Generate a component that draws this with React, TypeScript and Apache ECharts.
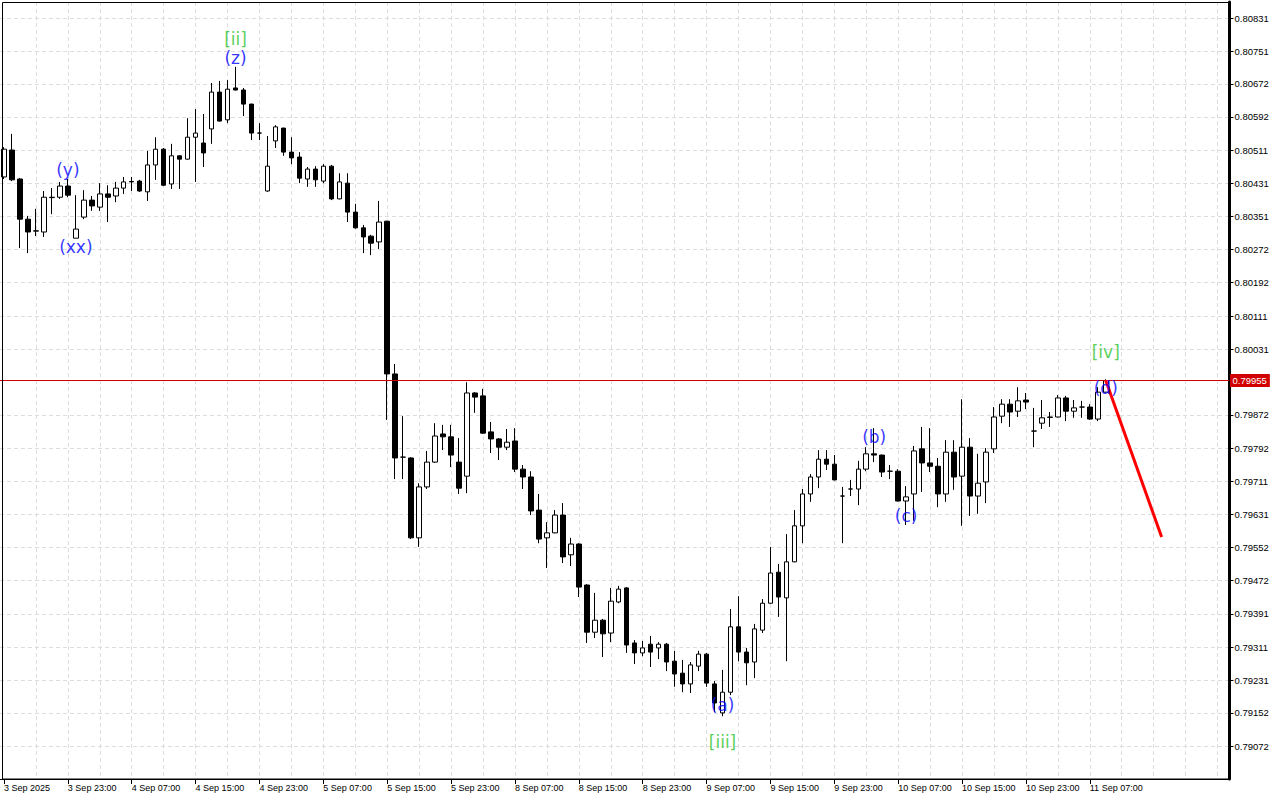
import React, { useEffect, useRef } from "react";
import * as echarts from "echarts";

// Time labels shown every 8 hourly bars (index 0, 8, 16, ...)
const xTickLabels = [
  "3 Sep 2025", "3 Sep 23:00", "4 Sep 07:00", "4 Sep 15:00", "4 Sep 23:00",
  "5 Sep 07:00", "5 Sep 15:00", "5 Sep 23:00", "8 Sep 07:00", "8 Sep 15:00",
  "8 Sep 23:00", "9 Sep 07:00", "9 Sep 15:00", "9 Sep 23:00", "10 Sep 07:00",
  "10 Sep 15:00", "10 Sep 23:00", "11 Sep 07:00",
];
const LABEL_STEP = 8;
const GRID_STEP = 4;
const BAR_SLOTS = 154;

// Price-axis tick values
const yTickValues = [
  0.80831, 0.80751, 0.80672, 0.80592, 0.80511, 0.80431, 0.80351, 0.80272,
  0.80192, 0.80111, 0.80031, 0.79872, 0.79792, 0.79711, 0.79631, 0.79552,
  0.79472, 0.79391, 0.79311, 0.79231, 0.79152, 0.79072,
];
const yMin = 0.789923;
const yMax = 0.808697;

// Hourly candles: [open, close, low, high]
const candles: number[][] = [
  [0.80447, 0.80514, 0.80442, 0.80519], [0.80512, 0.80440, 0.80437, 0.80551],
  [0.80442, 0.80345, 0.80275, 0.80444], [0.80345, 0.80314, 0.80263, 0.80353],
  [0.80316, 0.80317, 0.80304, 0.80370], [0.80314, 0.80398, 0.80302, 0.80413],
  [0.80397, 0.80398, 0.80357, 0.80420], [0.80398, 0.80425, 0.80394, 0.80435],
  [0.80425, 0.80403, 0.80398, 0.80442], [0.80299, 0.80321, 0.80299, 0.80403],
  [0.80350, 0.80391, 0.80345, 0.80415], [0.80391, 0.80377, 0.80365, 0.80401],
  [0.80374, 0.80406, 0.80365, 0.80432], [0.80406, 0.80398, 0.80338, 0.80427],
  [0.80401, 0.80420, 0.80386, 0.80435], [0.80420, 0.80435, 0.80406, 0.80447],
  [0.80436, 0.80435, 0.80413, 0.80447], [0.80437, 0.80413, 0.80411, 0.80440],
  [0.80411, 0.80476, 0.80389, 0.80510], [0.80476, 0.80514, 0.80440, 0.80543],
  [0.80514, 0.80427, 0.80425, 0.80517], [0.80430, 0.80498, 0.80418, 0.80527],
  [0.80498, 0.80490, 0.80418, 0.80499], [0.80490, 0.80543, 0.80489, 0.80589],
  [0.80543, 0.80553, 0.80435, 0.80611], [0.80529, 0.80505, 0.80471, 0.80599],
  [0.80563, 0.80652, 0.80527, 0.80674], [0.80652, 0.80582, 0.80581, 0.80679],
  [0.80585, 0.80659, 0.80577, 0.80681], [0.80662, 0.80657, 0.80656, 0.80713],
  [0.80657, 0.80623, 0.80594, 0.80662], [0.80623, 0.80553, 0.80536, 0.80624],
  [0.80553, 0.80553, 0.80536, 0.80577], [0.80413, 0.80473, 0.80411, 0.80546],
  [0.80534, 0.80568, 0.80517, 0.80572], [0.80565, 0.80507, 0.80498, 0.80566],
  [0.80507, 0.80493, 0.80478, 0.80543], [0.80495, 0.80444, 0.80432, 0.80507],
  [0.80442, 0.80466, 0.80423, 0.80471], [0.80466, 0.80440, 0.80423, 0.80473],
  [0.80437, 0.80473, 0.80432, 0.80478], [0.80473, 0.80394, 0.80391, 0.80476],
  [0.80394, 0.80435, 0.80393, 0.80456], [0.80432, 0.80362, 0.80338, 0.80456],
  [0.80362, 0.80324, 0.80322, 0.80382], [0.80324, 0.80302, 0.80263, 0.80331],
  [0.80304, 0.80287, 0.80258, 0.80307], [0.80290, 0.80338, 0.80273, 0.80389],
  [0.80340, 0.79971, 0.79860, 0.80341], [0.79971, 0.79768, 0.79717, 0.79995],
  [0.79770, 0.79770, 0.79717, 0.79869], [0.79768, 0.79575, 0.79572, 0.79770],
  [0.79575, 0.79698, 0.79553, 0.79707], [0.79698, 0.79758, 0.79693, 0.79785],
  [0.79758, 0.79821, 0.79756, 0.79852], [0.79826, 0.79819, 0.79787, 0.79848],
  [0.79819, 0.79775, 0.79746, 0.79848], [0.79758, 0.79695, 0.79681, 0.79816],
  [0.79724, 0.79925, 0.79683, 0.79951], [0.79925, 0.79915, 0.79877, 0.79927],
  [0.79918, 0.79828, 0.79826, 0.79935], [0.79831, 0.79814, 0.79780, 0.79855],
  [0.79814, 0.79794, 0.79763, 0.79816], [0.79794, 0.79806, 0.79787, 0.79838],
  [0.79809, 0.79741, 0.79734, 0.79840], [0.79741, 0.79722, 0.79693, 0.79751],
  [0.79722, 0.79640, 0.79630, 0.79736], [0.79642, 0.79572, 0.79562, 0.79681],
  [0.79575, 0.79587, 0.79502, 0.79613], [0.79587, 0.79630, 0.79586, 0.79642],
  [0.79630, 0.79529, 0.79514, 0.79659], [0.79534, 0.79560, 0.79507, 0.79575],
  [0.79560, 0.79456, 0.79432, 0.79562], [0.79461, 0.79347, 0.79321, 0.79463],
  [0.79347, 0.79376, 0.79333, 0.79442], [0.79376, 0.79343, 0.79287, 0.79379],
  [0.79345, 0.79422, 0.79323, 0.79454], [0.79420, 0.79451, 0.79417, 0.79459],
  [0.79454, 0.79316, 0.79297, 0.79456], [0.79321, 0.79297, 0.79270, 0.79328],
  [0.79297, 0.79309, 0.79289, 0.79326], [0.79318, 0.79299, 0.79263, 0.79338],
  [0.79309, 0.79318, 0.79282, 0.79323], [0.79318, 0.79275, 0.79253, 0.79321],
  [0.79277, 0.79246, 0.79215, 0.79302], [0.79248, 0.79222, 0.79202, 0.79280],
  [0.79222, 0.79268, 0.79200, 0.79275], [0.79265, 0.79294, 0.79253, 0.79302],
  [0.79294, 0.79224, 0.79215, 0.79297], [0.79222, 0.79176, 0.79154, 0.79229],
  [0.79152, 0.79202, 0.79144, 0.79256], [0.79202, 0.79360, 0.79195, 0.79403],
  [0.79360, 0.79299, 0.79277, 0.79434], [0.79299, 0.79273, 0.79219, 0.79309],
  [0.79275, 0.79355, 0.79236, 0.79367], [0.79352, 0.79417, 0.79345, 0.79427],
  [0.79417, 0.79490, 0.79416, 0.79553], [0.79492, 0.79432, 0.79384, 0.79512],
  [0.79430, 0.79517, 0.79277, 0.79584], [0.79517, 0.79604, 0.79516, 0.79642],
  [0.79604, 0.79681, 0.79562, 0.79693], [0.79681, 0.79722, 0.79662, 0.79729],
  [0.79722, 0.79765, 0.79695, 0.79787], [0.79765, 0.79753, 0.79739, 0.79787],
  [0.79753, 0.79715, 0.79714, 0.79775], [0.79676, 0.79676, 0.79562, 0.79698],
  [0.79693, 0.79693, 0.79676, 0.79715], [0.79693, 0.79741, 0.79654, 0.79761],
  [0.79741, 0.79778, 0.79736, 0.79794], [0.79778, 0.79775, 0.79758, 0.79840],
  [0.79775, 0.79734, 0.79722, 0.79776], [0.79736, 0.79736, 0.79717, 0.79751],
  [0.79736, 0.79664, 0.79663, 0.79741], [0.79664, 0.79674, 0.79606, 0.79700],
  [0.79681, 0.79785, 0.79616, 0.79797], [0.79790, 0.79756, 0.79686, 0.79843],
  [0.79756, 0.79748, 0.79734, 0.79840], [0.79748, 0.79681, 0.79649, 0.79768],
  [0.79681, 0.79782, 0.79662, 0.79811], [0.79782, 0.79722, 0.79691, 0.79811],
  [0.79724, 0.79794, 0.79604, 0.79910], [0.79794, 0.79676, 0.79628, 0.79816],
  [0.79676, 0.79707, 0.79633, 0.79778], [0.79710, 0.79782, 0.79659, 0.79792],
  [0.79790, 0.79867, 0.79780, 0.79891], [0.79869, 0.79898, 0.79852, 0.79910],
  [0.79898, 0.79879, 0.79843, 0.79910], [0.79881, 0.79906, 0.79867, 0.79939],
  [0.79908, 0.79903, 0.79886, 0.79925], [0.79833, 0.79833, 0.79794, 0.79889],
  [0.79852, 0.79865, 0.79838, 0.79908], [0.79866, 0.79867, 0.79843, 0.79879],
  [0.79867, 0.79913, 0.79866, 0.79920], [0.79913, 0.79881, 0.79857, 0.79918],
  [0.79881, 0.79889, 0.79865, 0.79908], [0.79891, 0.79891, 0.79865, 0.79906],
  [0.79891, 0.79862, 0.79860, 0.79898], [0.79862, 0.79927, 0.79857, 0.79939],
  [0.79927, 0.79955, 0.79926, 0.79958],
];

const currentPrice = 0.79955;

// Forecast line: [bar index, price]
const forecastLine: number[][] = [
  [138, 0.79955],
  [145, 0.79577],
];

// Elliott wave labels: text, bar index, price, degree
const waveTexts = ["[ii]", "(z)", "(y)", "(xx)", "(a)", "[iii]", "(b)", "(c)", "[iv]", "(d)"];
const waveBars = [29, 29, 8, 9, 90, 90, 109, 113, 138, 138];
const wavePrices = [0.8078, 0.80734, 0.80464, 0.80278, 0.79171, 0.79082, 0.79819, 0.79628, 0.80024, 0.79937];
const waveDegrees = ["major", "minor", "minor", "minor", "minor", "major", "minor", "minor", "major", "minor"];

const AXIS_FONT = "'Liberation Sans', Arial, sans-serif";
const WAVE_FONT = "'DejaVu Sans', sans-serif";
const GRID_LINE = { color: "#dddddd", type: [4, 3] as number[], width: 1 };

export default function App() {
  const ref = useRef<HTMLDivElement>(null);

  useEffect(() => {
    if (!ref.current) return;
    const chart = echarts.init(ref.current, null, { renderer: "svg" });
    const categories = Array.from({ length: BAR_SLOTS }, (_, i) => String(i));
    const isLabelIdx = (i: number) => i % LABEL_STEP === 0 && i / LABEL_STEP < xTickLabels.length;

    const option: any = {
      animation: false,
      backgroundColor: "#ffffff",
      grid: { left: -2.5, right: 50.5, top: 2, bottom: 21, show: false },
      xAxis: {
        type: "category",
        data: categories,
        boundaryGap: true,
        axisLine: { show: true, onZero: false, lineStyle: { color: "#000", width: 1 } },
        axisTick: {
          show: true,
          alignWithLabel: true,
          interval: (i: number) => isLabelIdx(i),
          length: 5,
          lineStyle: { color: "#000", width: 1 },
        },
        axisLabel: {
          show: true,
          interval: (i: number) => isLabelIdx(i),
          formatter: (_v: string, i: number) => xTickLabels[i / LABEL_STEP] ?? "",
          align: "left",
          margin: 4,
          color: "#000",
          fontFamily: AXIS_FONT,
          fontSize: 9,
        },
        splitLine: {
          show: true,
          alignWithLabel: true,
          interval: (i: number) => i % GRID_STEP === 0 && i > 0,
          lineStyle: GRID_LINE,
        },
      },
      yAxis: {
        type: "value",
        position: "right",
        min: yMin,
        max: yMax,
        axisLine: { show: true, onZero: false, lineStyle: { color: "#000", width: 3 } },
        axisTick: {
          show: true,
          customValues: yTickValues,
          length: 4,
          lineStyle: { color: "#000", width: 1 },
        },
        axisLabel: {
          show: true,
          customValues: yTickValues,
          formatter: (v: number) => v.toFixed(5),
          margin: 5,
          color: "#000",
          fontFamily: AXIS_FONT,
          fontSize: 9.5,
        },
        splitLine: { show: true, lineStyle: GRID_LINE },
      },
      graphic: [
        {
          type: "rect",
          silent: true,
          z: 100,
          shape: { x: 2.5, y: 2.5, width: 1227, height: 776.5 },
          style: { fill: "none", stroke: "#000", lineWidth: 1 },
        },
      ],
      series: [
        {
          type: "candlestick",
          data: candles,
          barWidth: 5,
          itemStyle: {
            color: "#ffffff",
            color0: "#000000",
            borderColor: "#000000",
            borderColor0: "#000000",
            borderColorDoji: "#000000",
            borderWidth: 1,
          },
          markLine: {
            silent: true,
            precision: 5,
            symbol: ["none", "none"],
            data: [{ yAxis: currentPrice }],
            lineStyle: { color: "#d00000", width: 1, type: "solid" },
            label: {
              show: true,
              position: "end",
              distance: 0,
              formatter: (p: any) => Number(p.value).toFixed(5),
              backgroundColor: "#d00000",
              color: "#ffffff",
              padding: [2, 3, 1, 3],
              fontFamily: AXIS_FONT,
              fontSize: 9.5,
            },
          },
          z: 2,
        },
        {
          type: "line",
          data: forecastLine,
          showSymbol: false,
          symbol: "none",
          lineStyle: { color: "#ff0000", width: 3 },
          z: 5,
        },
        {
          type: "scatter",
          symbol: "circle",
          symbolSize: 1,
          itemStyle: { color: "rgba(0,0,0,0)" },
          z: 10,
          data: waveTexts.map((t, i) => ({
            value: [waveBars[i], wavePrices[i]],
            label: {
              formatter: t,
              color: waveDegrees[i] === "major" ? "#2ec42e" : "#0000ff",
            },
          })),
          label: {
            show: true,
            position: "inside",
            fontFamily: WAVE_FONT,
            fontSize: 17,
          },
        },
      ],
    };

    chart.setOption(option);
    return () => chart.dispose();
  }, []);

  return (
    <div
      ref={ref}
      style={{ position: "fixed", left: 0, top: 0, width: 1280, height: 800, background: "#fff" }}
    />
  );
}
